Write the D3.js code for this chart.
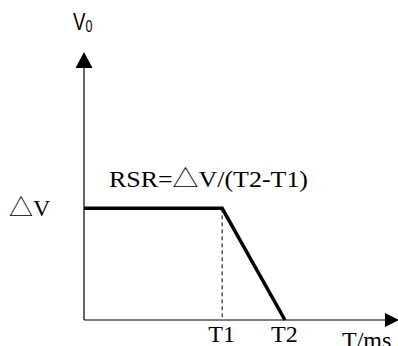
<!DOCTYPE html>
<html>
<head>
<meta charset="utf-8" />
<title>RSR</title>
<style>
html, body { margin: 0; padding: 0; background: #fff; }
svg { display: block; }
.serif { font-family: "Liberation Serif", "Times New Roman", serif; font-size: 24px; fill: #000; }
.tri { font-family: "Noto Sans CJK SC", sans-serif; font-weight: 300; }
</style>
</head>
<body>
<div id="chart"></div>
<script src="https://cdnjs.cloudflare.com/ajax/libs/d3/7.8.5/d3.min.js"></script>
<script>
// curve points (time in arbitrary units, value relative to dV)
var times = [0, 4.4, 6.4]
var values = [1, 1, 0]
var tickNames = ["T1", "T2"]
var tickTimes = [4.4, 6.4]

var width = 398, height = 346
var svg = d3.select("#chart").append("svg").attr("width", width).attr("height", height)

var x = d3.scaleLinear().domain([0, 10]).range([84, 398])
var y = d3.scaleLinear().domain([0, 2.4]).range([320, 52])

// axes
svg.append("line").attr("x1", x(0)).attr("x2", x(10) - 10).attr("y1", y(0)).attr("y2", y(0))
    .attr("stroke", "#000").attr("stroke-width", 1.2)
svg.append("line").attr("x1", x(0)).attr("x2", x(0)).attr("y1", y(0)).attr("y2", y(2.4) + 12)
    .attr("stroke", "#000").attr("stroke-width", 1.2)

// arrowheads
var ax = x(0), ay = y(2.4)
svg.append("path").attr("d", "M" + ax + "," + ay + "L" + (ax - 8.5) + "," + (ay + 16) + "L" + (ax + 8.5) + "," + (ay + 16) + "Z")
var bx = x(10), by = y(0)
svg.append("path").attr("d", "M" + (bx + 1) + "," + by + "L" + (bx - 13) + "," + (by - 7) + "L" + (bx - 13) + "," + (by + 7) + "Z")

// dashed guide at T1
svg.append("line").attr("x1", x(times[1])).attr("x2", x(times[1]))
    .attr("y1", y(values[1])).attr("y2", y(0))
    .attr("stroke", "#000").attr("stroke-width", 1).attr("stroke-dasharray", "4,3")

// curve
var line = d3.line().x(function(d, i) { return x(times[i]) }).y(function(d) { return y(d) })
svg.append("path").datum(values).attr("d", line)
    .attr("fill", "none").attr("stroke", "#000").attr("stroke-width", 3.5)

// tick labels
svg.selectAll(".tick").data(tickNames).enter().append("text")
    .attr("class", "serif").attr("text-anchor", "middle")
    .attr("x", function(d, i) { return x(tickTimes[i]) - 0.5 })
    .attr("y", 342)
    .text(function(d) { return d })

svg.append("text").attr("class", "serif").attr("x", 342).attr("y", 348).text("T/ms")

var dv = svg.append("text").attr("class", "serif").attr("x", 9).attr("y", 216)
dv.append("tspan").attr("class", "tri").text("△")
dv.append("tspan").text("V")

var rsr = svg.append("text").attr("class", "serif").attr("x", 109).attr("y", 187)
    .attr("textLength", 199).attr("lengthAdjust", "spacingAndGlyphs")
rsr.append("tspan").text("RSR=")
rsr.append("tspan").attr("class", "tri").text("△")
rsr.append("tspan").text("V/(T2-T1)")

// y label V0
var v0 = svg.append("text").attr("transform", "translate(73,30) scale(0.78,1)")
    .style("font-family", "'Liberation Sans', Arial, sans-serif").style("font-size", "24px")
v0.append("tspan").text("V")
v0.append("tspan").attr("dy", 2).style("font-size", "16px").text("0")
</script>
</body>
</html>
